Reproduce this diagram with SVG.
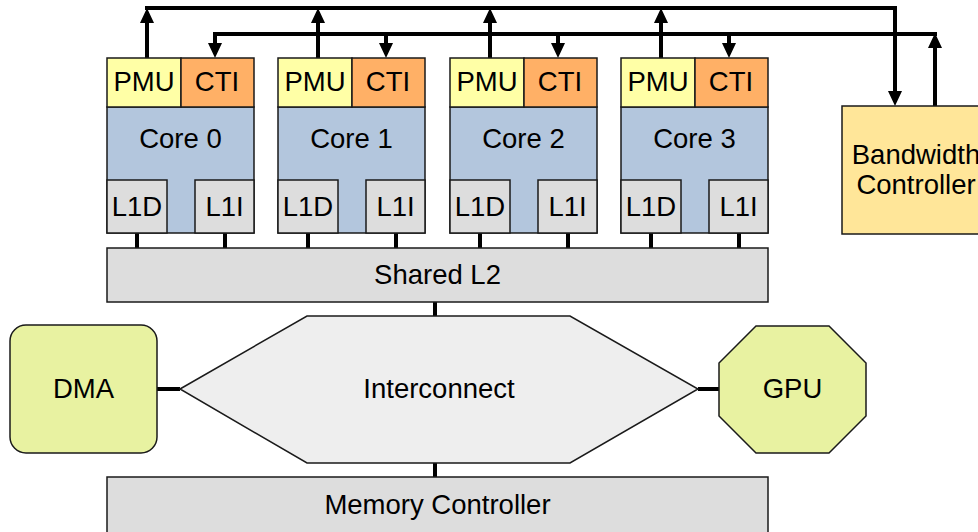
<svg xmlns="http://www.w3.org/2000/svg" width="978" height="532" viewBox="0 0 978 532">
<defs>
<style>
text{font-family:"Liberation Sans",Arial,sans-serif;font-size:27.5px;fill:#000;text-anchor:middle}
.box{stroke:#1a1a1a;stroke-width:1.5}
.pmu{fill:#FFFFA6}
.cti{fill:#FFB066}
.core{fill:#B3C6DD}
.l1{fill:#DDDDDD}
.gray{fill:#DDDDDD}
.ic{fill:#EEEEEE}
.green{fill:#E8F2A1}
.bw{fill:#FFE699}
.wire{fill:none;stroke:#000;stroke-width:4;stroke-linejoin:miter}
.arr{marker-end:url(#ah)}
</style>
<marker id="ah" viewBox="0 0 15 14" refX="11" refY="7" markerWidth="15" markerHeight="14" markerUnits="userSpaceOnUse" orient="auto">
<path d="M0,0 L15,7 L0,14 z" fill="#000"/>
</marker>
</defs>
<g id="connectors">
<path class="wire arr" d="M147,58 V12"/>
<path class="wire arr" d="M318,58 V12"/>
<path class="wire arr" d="M490,58 V12"/>
<path class="wire arr" d="M661,58 V12"/>
<path class="wire arr" d="M145,8 H895 V102"/>
<path class="wire arr" d="M935,106 V37"/>
<path class="wire" d="M213,34 H937"/>
<path class="wire arr" d="M215,34 V54"/>
<path class="wire arr" d="M386,34 V54"/>
<path class="wire arr" d="M558,34 V54"/>
<path class="wire arr" d="M729,34 V54"/>
<path class="wire" d="M137,233 V248 M225,233 V248 M308,233 V248 M396,233 V248 M480,233 V248 M568,233 V248 M651,233 V248 M739,233 V248"/>
<path class="wire" d="M435,302 V316 M435,463 V477"/>
<path class="wire" d="M157,389 H180 M698,389 H719"/>
</g>
<g id="core0" transform="translate(107,0)">
<path class="box core" d="M0,107 H147 V233 H0 Z"/>
<rect class="box pmu" x="0" y="58" width="74" height="49"/>
<rect class="box cti" x="74" y="58" width="73" height="49"/>
<rect class="box l1" x="0" y="180" width="60" height="53"/>
<rect class="box l1" x="88" y="180" width="59" height="53"/>
<text x="37" y="91">PMU</text><text x="110" y="91">CTI</text>
<text x="73.5" y="148">Core 0</text>
<text x="30" y="216">L1D</text><text x="117.5" y="216">L1I</text>
</g>
<g id="core1" transform="translate(278,0)">
<path class="box core" d="M0,107 H147 V233 H0 Z"/>
<rect class="box pmu" x="0" y="58" width="74" height="49"/>
<rect class="box cti" x="74" y="58" width="73" height="49"/>
<rect class="box l1" x="0" y="180" width="60" height="53"/>
<rect class="box l1" x="88" y="180" width="59" height="53"/>
<text x="37" y="91">PMU</text><text x="110" y="91">CTI</text>
<text x="73.5" y="148">Core 1</text>
<text x="30" y="216">L1D</text><text x="117.5" y="216">L1I</text>
</g>
<g id="core2" transform="translate(450,0)">
<path class="box core" d="M0,107 H147 V233 H0 Z"/>
<rect class="box pmu" x="0" y="58" width="74" height="49"/>
<rect class="box cti" x="74" y="58" width="73" height="49"/>
<rect class="box l1" x="0" y="180" width="60" height="53"/>
<rect class="box l1" x="88" y="180" width="59" height="53"/>
<text x="37" y="91">PMU</text><text x="110" y="91">CTI</text>
<text x="73.5" y="148">Core 2</text>
<text x="30" y="216">L1D</text><text x="117.5" y="216">L1I</text>
</g>
<g id="core3" transform="translate(621,0)">
<path class="box core" d="M0,107 H147 V233 H0 Z"/>
<rect class="box pmu" x="0" y="58" width="74" height="49"/>
<rect class="box cti" x="74" y="58" width="73" height="49"/>
<rect class="box l1" x="0" y="180" width="60" height="53"/>
<rect class="box l1" x="88" y="180" width="59" height="53"/>
<text x="37" y="91">PMU</text><text x="110" y="91">CTI</text>
<text x="73.5" y="148">Core 3</text>
<text x="30" y="216">L1D</text><text x="117.5" y="216">L1I</text>
</g>
<g id="bandwidth-controller">
<rect class="box bw" x="842" y="106" width="150" height="128"/>
<text x="916" y="164">Bandwidth</text>
<text x="916" y="194">Controller</text>
</g>
<g id="shared-l2">
<rect class="box gray" x="107" y="248" width="661" height="54"/>
<text x="437.5" y="284">Shared L2</text>
</g>
<g id="interconnect">
<polygon class="box ic" points="180,389 307,316 570,316 698,389 570,463 307,463"/>
<text x="439" y="398">Interconnect</text>
</g>
<g id="dma">
<rect class="box green" x="10" y="325" width="147" height="128" rx="16" ry="16"/>
<text x="83.5" y="398">DMA</text>
</g>
<g id="gpu">
<polygon class="box green" points="756,326 829,326 866,363 866,416 829,453 756,453 719,416 719,363"/>
<text x="792.5" y="398">GPU</text>
</g>
<g id="memory-controller">
<rect class="box gray" x="107" y="477" width="661" height="60"/>
<text x="437.5" y="514">Memory Controller</text>
</g>
</svg>
